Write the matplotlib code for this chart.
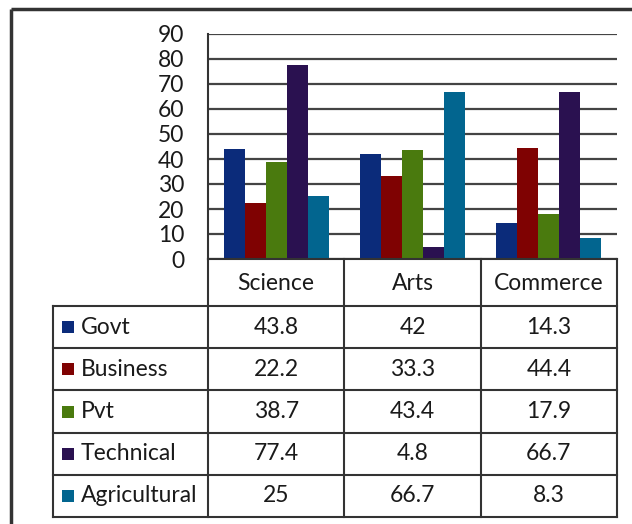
import matplotlib
matplotlib.use("Agg")
import matplotlib.pyplot as plt
import numpy as np
from matplotlib.patches import Rectangle

categories = ["Science", "Arts", "Commerce"]
series_names = ["Govt", "Business", "Pvt", "Technical", "Agricultural"]
govt = [43.8, 42, 14.3]
business = [22.2, 33.3, 44.4]
pvt = [38.7, 43.4, 17.9]
technical = [77.4, 4.8, 66.7]
agricultural = [25, 66.7, 8.3]
series_values = [govt, business, pvt, technical, agricultural]
value_labels = [["43.8", "42", "14.3"], ["22.2", "33.3", "44.4"], ["38.7", "43.4", "17.9"],
                ["77.4", "4.8", "66.7"], ["25", "66.7", "8.3"]]
colors = ["#0B2B7A", "#7F0202", "#4A7A0E", "#2A1150", "#02658F"]
yticks = list(range(0, 100, 10))

FONT = "Lato"
FS = 16.5
TC = "#1a1a1a"
W, H = 632, 524
fig = plt.figure(figsize=(W / 100, H / 100), dpi=100)
fig.patch.set_facecolor("white")

def fx(px):
    return px / W

def fy(py):
    return 1 - py / H

# plot area pixels
L, R, T, B = 208, 617, 34, 259
ax = fig.add_axes([fx(L), fy(B), fx(R - L), (B - T) / H])
n = len(series_names)
bw = 1 / 6.5
x = np.arange(len(categories))
for i, (name, vals) in enumerate(zip(series_names, series_values)):
    ax.bar(x + (i - (n - 1) / 2) * bw, vals, width=bw, color=colors[i], zorder=3, linewidth=0)
ax.set_xlim(-0.5, len(categories) - 0.5)
ax.set_ylim(0, 90)
ax.set_yticks(yticks)
ax.set_yticklabels([str(v) for v in yticks], fontfamily=FONT, fontsize=FS, color=TC)
ax.tick_params(axis="y", length=0, pad=17)
ax.set_xticks([])
for s in ["top", "right", "bottom"]:
    ax.spines[s].set_visible(False)
ax.spines["left"].set_color("#333333")
ax.spines["left"].set_linewidth(1.5)
ax.yaxis.grid(True, color="#444444", linewidth=1.6, zorder=0)
ax.set_facecolor("none")

# table
tab = fig.add_axes([0, 0, 1, 1], facecolor="none")
tab.set_xlim(0, W)
tab.set_ylim(H, 0)
tab.axis("off")
lc = "#333333"
lw = 1.5
col_w = (R - L) / len(categories)
row_top = 306
row_h = (517 - 306) / len(series_names)
tleft = 53
tab.plot([L, R], [B, B], color=lc, lw=lw)
for j in range(len(categories) + 1):
    xx = L + j * col_w
    tab.plot([xx, xx], [B, row_top + row_h * n], color=lc, lw=lw)
for k in range(n + 1):
    yy = row_top + k * row_h
    tab.plot([tleft, R], [yy, yy], color=lc, lw=lw)
tab.plot([tleft, tleft], [row_top, row_top + row_h * n], color=lc, lw=lw)
for j, c in enumerate(categories):
    tab.text(L + (j + 0.5) * col_w, (B + row_top) / 2 + 1, c, ha="center", va="center",
             fontfamily=FONT, fontsize=FS, color=TC)
for i, name in enumerate(series_names):
    yc = row_top + (i + 0.5) * row_h
    tab.add_patch(Rectangle((62, yc - 6), 12, 12, color=colors[i], lw=0))
    tab.text(81, yc, name, ha="left", va="center", fontfamily=FONT, fontsize=FS, color=TC)
    for j in range(len(categories)):
        tab.text(L + (j + 0.5) * col_w, yc, value_labels[i][j], ha="center", va="center",
                 fontfamily=FONT, fontsize=FS, color=TC)

# outer frame (left and top edges)
tab.plot([11, W], [9, 9], color="#333333", lw=2.5, solid_capstyle="butt")
tab.plot([11, 11], [9, H], color="#333333", lw=2.5, solid_capstyle="butt")

fig.savefig("out.png", dpi=100)
